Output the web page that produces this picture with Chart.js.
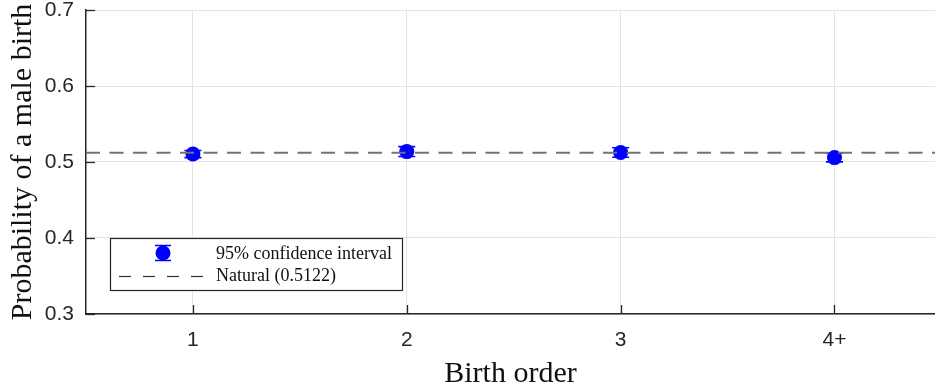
<!DOCTYPE html>
<html>
<head>
<meta charset="utf-8">
<script src="https://cdn.jsdelivr.net/npm/chart.js@4.4.0/dist/chart.umd.min.js"></script>
<style>
  html, body { margin: 0; padding: 0; background: #fff; }
  #wrap { width: 935px; height: 392px; position: relative; }
</style>
</head>
<body>
<div id="wrap"><canvas id="birthChart" width="935" height="392"></canvas></div>
<script>
// datos
const orderLabels = ['1', '2', '3', '4+'];
const orderPos = [1, 2, 3, 4];
const probMale = [0.5105, 0.5137, 0.5125, 0.5058];
const ciLow = [0.5058, 0.5072, 0.5062, 0.5001];
const ciHigh = [0.5152, 0.5202, 0.5188, 0.5115];
const naturalValue = 0.5122;
const yTicks = [0.3, 0.4, 0.5, 0.6, 0.7];

const X_MIN = 0.5, X_MAX = 4.47;
const AXIS_COLOR = '#262626';
const MARK_COLOR = '#0000ff';

// barras de error, marcas interiores y leyenda
const extrasPlugin = {
    id: 'extras',
    beforeDatasetsDraw(chart) {
        const { ctx, chartArea, scales } = chart;
        const xs = scales.x, ys = scales.y;
        ctx.save();
        ctx.strokeStyle = AXIS_COLOR;
        ctx.lineWidth = 1.3;
        // marcas hacia adentro
        orderPos.forEach(v => {
            const px = Math.round(xs.getPixelForValue(v)) + 0.5;
            ctx.beginPath();
            ctx.moveTo(px, chartArea.bottom);
            ctx.lineTo(px, chartArea.bottom - 9);
            ctx.stroke();
        });
        yTicks.forEach(v => {
            const py = Math.round(ys.getPixelForValue(v)) + 0.5;
            ctx.beginPath();
            ctx.moveTo(chartArea.left, py);
            ctx.lineTo(chartArea.left + 9, py);
            ctx.stroke();
        });
        // barras de error (debajo de la linea natural)
        ctx.strokeStyle = MARK_COLOR;
        ctx.lineWidth = 1.6;
        orderPos.forEach((v, i) => {
            const px = xs.getPixelForValue(v);
            const pLo = ys.getPixelForValue(ciLow[i]);
            const pHi = ys.getPixelForValue(ciHigh[i]);
            ctx.beginPath();
            ctx.moveTo(px, pLo); ctx.lineTo(px, pHi);
            ctx.moveTo(px - 8.5, pLo); ctx.lineTo(px + 8.5, pLo);
            ctx.moveTo(px - 8.5, pHi); ctx.lineTo(px + 8.5, pHi);
            ctx.stroke();
        });
        ctx.restore();
    },
    afterDraw(chart) {
        const { ctx } = chart;
        ctx.save();
        // caja de leyenda
        ctx.fillStyle = '#fff';
        ctx.fillRect(110, 238, 292, 52);
        ctx.strokeStyle = AXIS_COLOR;
        ctx.lineWidth = 1.2;
        ctx.strokeRect(110.5, 238.5, 292, 52);

        // simbolo del intervalo
        ctx.strokeStyle = MARK_COLOR;
        ctx.fillStyle = MARK_COLOR;
        ctx.lineWidth = 1.6;
        ctx.beginPath();
        ctx.moveTo(163, 245.5); ctx.lineTo(163, 260.5);
        ctx.moveTo(155, 245.5); ctx.lineTo(171, 245.5);
        ctx.moveTo(155, 260.5); ctx.lineTo(171, 260.5);
        ctx.stroke();
        ctx.beginPath();
        ctx.arc(163, 253, 7.5, 0, Math.PI * 2);
        ctx.fill();

        // simbolo de la linea natural
        ctx.strokeStyle = '#333';
        ctx.lineWidth = 1.2;
        ctx.setLineDash([12, 12]);
        ctx.beginPath();
        ctx.moveTo(119, 276.5); ctx.lineTo(204, 276.5);
        ctx.stroke();
        ctx.setLineDash([]);

        ctx.fillStyle = '#111';
        ctx.font = '18px "Liberation Serif", "Times New Roman", serif';
        ctx.textBaseline = 'middle';
        ctx.fillText('95% confidence interval', 216, 254);
        ctx.fillText('Natural (' + naturalValue + ')', 216, 276);
        ctx.restore();
    }
};

const ctx = document.getElementById('birthChart').getContext('2d');
new Chart(ctx, {
    type: 'scatter',
    data: {
        datasets: [
            {
                label: 'Natural (' + naturalValue + ')',
                type: 'line',
                data: [{ x: X_MIN, y: naturalValue }, { x: X_MAX, y: naturalValue }],
                borderColor: '#737373',
                borderWidth: 2,
                borderDash: [14, 9.5],
                pointRadius: 0,
                fill: false,
                order: 0
            },
            {
                label: '95% confidence interval',
                data: orderPos.map((v, i) => ({ x: v, y: probMale[i] })),
                backgroundColor: MARK_COLOR,
                borderColor: MARK_COLOR,
                pointRadius: 7.5,
                pointHoverRadius: 7.5,
                borderWidth: 0,
                order: 1
            }
        ]
    },
    options: {
        responsive: false,
        animation: false,
        layout: { autoPadding: false, padding: { top: 10, right: 0, left: 0, bottom: 0 } },
        plugins: {
            legend: { display: false },
            tooltip: { enabled: false }
        },
        scales: {
            x: {
                type: 'linear',
                min: X_MIN,
                max: X_MAX,
                afterBuildTicks: (scale) => { scale.ticks = orderPos.map(v => ({ value: v })); },
                afterFit: (scale) => {
                    scale.height = 78;
                    scale.paddingLeft = 0;
                    scale.paddingRight = 0;
                },
                ticks: {
                    callback: (value) => orderLabels[orderPos.indexOf(value)],
                    color: '#262626',
                    padding: 14,
                    maxRotation: 0,
                    font: { family: '"Liberation Sans", Arial, sans-serif', size: 21 }
                },
                grid: { color: '#e3e3e3', lineWidth: 1, drawTicks: false },
                border: { color: AXIS_COLOR, width: 1.5 },
                title: {
                    display: true,
                    text: 'Birth order',
                    color: '#111',
                    padding: { top: 2, bottom: 0 },
                    font: { family: '"Liberation Serif", "Times New Roman", serif', size: 30 }
                }
            },
            y: {
                min: 0.3,
                max: 0.7,
                afterBuildTicks: (scale) => { scale.ticks = yTicks.map(v => ({ value: v })); },
                afterFit: (scale) => {
                    scale.width = 86;
                    scale.paddingTop = 0;
                    scale.paddingBottom = 0;
                },
                ticks: {
                    callback: (value) => value.toFixed(1),
                    color: '#262626',
                    padding: 12,
                    font: { family: '"Liberation Sans", Arial, sans-serif', size: 21 }
                },
                grid: { color: '#e3e3e3', lineWidth: 1, drawTicks: false },
                border: { color: AXIS_COLOR, width: 1.5 },
                title: {
                    display: true,
                    text: 'Probability of a male birth',
                    color: '#111',
                    padding: { top: 5, bottom: 0 },
                    font: { family: '"Liberation Serif", "Times New Roman", serif', size: 30 }
                }
            }
        }
    },
    plugins: [extrasPlugin]
});
</script>
</body>
</html>
